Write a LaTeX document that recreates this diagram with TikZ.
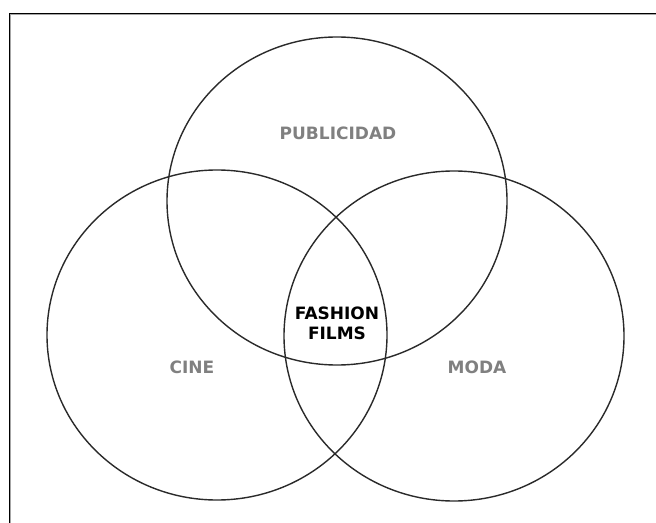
\documentclass[tikz,border=0pt]{standalone}
\usepackage{fontspec}
\setmainfont{DejaVu Sans}
\usetikzlibrary{shapes.geometric}
\definecolor{labelgrey}{HTML}{808080}
\definecolor{ringcol}{HTML}{2A2A2A}
\begin{document}
\begin{tikzpicture}[x=1bp,y=-1bp,
  ring/.style={draw=ringcol,line width=1.4bp},
  setlabel/.style={font=\fontsize{17bp}{20bp}\selectfont\bfseries,text=labelgrey,inner sep=0pt},
  centerlabel/.style={font=\fontsize{17bp}{20bp}\selectfont\bfseries,text=black,align=center,inner sep=0pt}]
\useasboundingbox (0,0) rectangle (656,523);
% frame (top and left edges)
\coordinate (tl) at (9.5,13.5);
\coordinate (tr) at (656,13.5);
\coordinate (bl) at (9.5,523);
\draw[labelgrey!70,line width=1bp] ([shift={(0,1.3)}]tr) -- ([shift={(1.3,1.3)}]tl) -- ([shift={(1.3,0)}]bl);
\draw[black,line width=1.4bp] (tr) -- (tl) -- (bl);
% circles
\draw[ring] (337,201) ellipse [x radius=170bp, y radius=164bp];
\draw[ring] (217,335) ellipse [x radius=170bp, y radius=165bp];
\draw[ring] (454,336) ellipse [x radius=170bp, y radius=165bp];
% labels
\node[setlabel] (pub) at (338,133) {PUBLICIDAD};
\node[setlabel] (cine) at (192,367) {CINE};
\node[setlabel] (moda) at (477,367) {MODA};
\node[centerlabel] (ff) at (337,323) {FASHION\\FILMS};
\end{tikzpicture}
\end{document}
